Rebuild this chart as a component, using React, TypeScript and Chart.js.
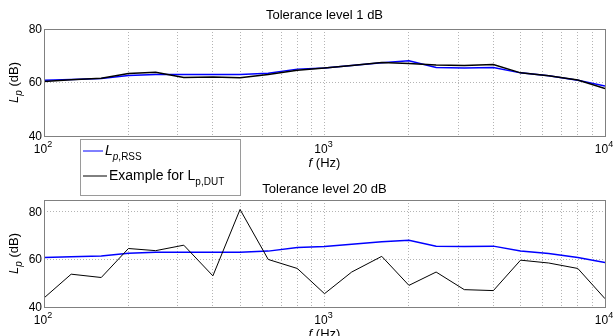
import { useEffect, useRef } from 'react';
import { Chart, registerables } from 'chart.js';

Chart.register(...registerables);

// One-third-octave band centre frequencies (Hz)
const freqs = [100, 125, 160, 200, 250, 315, 400, 500, 630, 800, 1000, 1250, 1600, 2000, 2500, 3150, 4000, 5000, 6300, 8000, 10000];

// Reference sound source level (dB)
const lpRss = [60.8, 61.1, 61.5, 62.6, 63.0, 63.0, 63.0, 63.0, 63.5, 65.0, 65.4, 66.4, 67.4, 68.1, 65.6, 65.4, 65.6, 63.6, 62.5, 60.8, 58.7];

// Example device-under-test levels (dB) for each tolerance level
const lpDutTol1 = [60.4, 61.0, 61.6, 63.4, 63.8, 61.9, 62.1, 61.8, 63.0, 64.6, 65.4, 66.4, 67.5, 67.1, 66.5, 66.4, 66.7, 63.6, 62.5, 60.9, 57.7];
const lpDutTol20 = [43.8, 53.8, 52.4, 64.6, 63.7, 66.0, 53.1, 81.0, 60.0, 56.2, 45.6, 54.7, 61.3, 49.1, 54.7, 47.3, 46.9, 59.7, 58.5, 56.2, 43.5];

// Axis ticks
const gridFreqs = [100, 200, 300, 400, 500, 600, 700, 800, 900, 1000, 2000, 3000, 4000, 5000, 6000, 7000, 8000, 9000, 10000];
const decadeTicks = [100, 1000, 10000];
const yTicks = [40, 60, 80];

const FONT = '"Liberation Sans", Arial, Helvetica, sans-serif';
const GRID = '#b4b4b4';
const FRAME = '#808080';

type Part = { text: string; size: number; italic?: boolean; dy?: number };

function richWidth(ctx: CanvasRenderingContext2D, parts: Part[]) {
  let w = 0;
  for (const p of parts) {
    ctx.font = `${p.italic ? 'italic ' : ''}${p.size}px ${FONT}`;
    w += ctx.measureText(p.text).width;
  }
  return w;
}

function drawRich(ctx: CanvasRenderingContext2D, parts: Part[], x: number, y: number, align: 'left' | 'center') {
  const total = richWidth(ctx, parts);
  let cx = align === 'center' ? x - total / 2 : x;
  ctx.textAlign = 'left';
  ctx.textBaseline = 'alphabetic';
  for (const p of parts) {
    ctx.font = `${p.italic ? 'italic ' : ''}${p.size}px ${FONT}`;
    ctx.fillText(p.text, cx, y + (p.dy || 0));
    cx += ctx.measureText(p.text).width;
  }
}

type PanelCfg = {
  title: string;
  titleBaseline: number;
  yMax: number;
  dut: number[];
  dutWidth: number;
  rssWidth: number;
  plotTop: number;
  plotBottom: number;
  height: number;
  offsetY: number;
  legend: boolean;
};

function makePanel(canvas: HTMLCanvasElement, cfg: PanelCfg) {
  const panelPlugin = {
    id: 'panelDecor',
    afterDraw(chart: any) {
      const { ctx, chartArea: a, scales } = chart;
      const xs = scales.x;
      const ys = scales.y;
      ctx.save();
      ctx.fillStyle = '#000';

      // plot frame
      ctx.strokeStyle = FRAME;
      ctx.lineWidth = 1;
      ctx.setLineDash([]);
      ctx.strokeRect(Math.round(a.left) + 0.5, Math.round(a.top) + 0.5, Math.round(a.right - a.left), Math.round(a.bottom - a.top));

      // title
      drawRich(ctx, [{ text: cfg.title, size: 13 }], (a.left + a.right) / 2, cfg.titleBaseline, 'center');

      // y tick labels
      ctx.font = `12px ${FONT}`;
      ctx.textAlign = 'right';
      ctx.textBaseline = 'middle';
      for (const v of yTicks) {
        if (v > cfg.yMax) continue;
        ctx.fillText(String(v), a.left - 2, ys.getPixelForValue(v) + 0.5);
      }

      // x tick labels (powers of ten)
      for (const v of decadeTicks) {
        const px = xs.getPixelForValue(v);
        const exp = String(Math.round(Math.log10(v)));
        drawRich(ctx, [{ text: '10', size: 12 }, { text: exp, size: 9, dy: -6 }], px - 1, a.bottom + 17, 'center');
      }

      // x axis title
      drawRich(ctx, [{ text: 'f', size: 13, italic: true }, { text: ' (Hz)', size: 13 }], (a.left + a.right) / 2, a.bottom + 30.5, 'center');

      // y axis title (rotated)
      ctx.save();
      ctx.translate(18, (a.top + a.bottom) / 2);
      ctx.rotate(-Math.PI / 2);
      drawRich(ctx, [
        { text: 'L', size: 13, italic: true },
        { text: 'p', size: 10, italic: true, dy: 4 },
        { text: ' (dB)', size: 13 },
      ], 0, 0, 'center');
      ctx.restore();

      // legend box between the panels
      if (cfg.legend) {
        const oy = -cfg.offsetY;
        ctx.fillStyle = '#fff';
        ctx.fillRect(80, 139 + oy, 161, 57);
        ctx.strokeStyle = '#9a9a9a';
        ctx.lineWidth = 1;
        ctx.strokeRect(80.5, 139.5 + oy, 160, 56);

        ctx.lineWidth = 1;
        ctx.strokeStyle = '#0000ff';
        ctx.beginPath();
        ctx.moveTo(83, 151 + oy);
        ctx.lineTo(103, 151 + oy);
        ctx.stroke();
        ctx.strokeStyle = '#000';
        ctx.beginPath();
        ctx.moveTo(83, 176 + oy);
        ctx.lineTo(107, 176 + oy);
        ctx.stroke();

        ctx.fillStyle = '#000';
        drawRich(ctx, [
          { text: 'L', size: 14, italic: true },
          { text: 'p', size: 10, italic: true, dy: 5 },
          { text: ',RSS', size: 10, dy: 5 },
        ], 105, 155 + oy, 'left');
        drawRich(ctx, [
          { text: 'Example for L', size: 14 },
          { text: 'p,DUT', size: 10, dy: 5 },
        ], 109, 180 + oy, 'left');
      }
      ctx.restore();
    },
  };

  const gridOpts = { color: GRID, lineWidth: 1, drawTicks: false };
  const borderOpts = { display: false, dash: [1, 2] };

  return new Chart(canvas, {
    type: 'line',
    data: {
      datasets: [
        {
          label: 'Example for Lp,DUT',
          data: freqs.map((f, i) => ({ x: f, y: cfg.dut[i] })),
          borderColor: '#000000',
          borderWidth: cfg.dutWidth,
          pointRadius: 0,
          tension: 0,
          order: 0,
        },
        {
          label: 'Lp,RSS',
          data: freqs.map((f, i) => ({ x: f, y: lpRss[i] })),
          borderColor: '#0000ff',
          borderWidth: cfg.rssWidth,
          pointRadius: 0,
          tension: 0,
          order: 1,
        },
      ],
    },
    options: {
      animation: false,
      responsive: false,
      events: [],
      layout: { padding: { top: cfg.plotTop, right: 9, left: 0, bottom: 0 } },
      plugins: {
        legend: { display: false },
        tooltip: { enabled: false },
        title: { display: false },
      },
      scales: {
        x: {
          type: 'logarithmic',
          min: 100,
          max: 10000,
          afterBuildTicks: (s: any) => {
            s.ticks = gridFreqs.map((v) => ({ value: v }));
          },
          afterFit: (s: any) => {
            s.height = cfg.height - cfg.plotBottom;
          },
          ticks: { display: false },
          grid: gridOpts,
          border: borderOpts,
        },
        y: {
          type: 'linear',
          min: 40,
          max: cfg.yMax,
          afterBuildTicks: (s: any) => {
            s.ticks = yTicks.filter((v) => v <= cfg.yMax).map((v) => ({ value: v }));
          },
          afterFit: (s: any) => {
            s.width = 44;
          },
          ticks: { display: false },
          grid: gridOpts,
          border: borderOpts,
        },
      },
    } as any,
    plugins: [panelPlugin],
  });
}

export default function App() {
  const topRef = useRef<HTMLCanvasElement>(null);
  const botRef = useRef<HTMLCanvasElement>(null);

  useEffect(() => {
    const top = makePanel(topRef.current!, {
      title: 'Tolerance level 1 dB',
      titleBaseline: 18.5,
      yMax: 80,
      dut: lpDutTol1,
      dutWidth: 1.5,
      rssWidth: 1.5,
      plotTop: 29,
      plotBottom: 136,
      height: 170,
      offsetY: 0,
      legend: false,
    });
    const bottom = makePanel(botRef.current!, {
      title: 'Tolerance level 20 dB',
      titleBaseline: 192.5 - 130,
      yMax: 85,
      dut: lpDutTol20,
      dutWidth: 1,
      rssWidth: 1.5,
      plotTop: 70,
      plotBottom: 177,
      height: 206,
      offsetY: 130,
      legend: true,
    });
    return () => {
      top.destroy();
      bottom.destroy();
    };
  }, []);

  return (
    <div style={{ position: 'absolute', left: 0, top: 0, width: 614, height: 336, background: '#fff', overflow: 'hidden' }}>
      <canvas ref={topRef} width={614} height={170} style={{ position: 'absolute', left: 0, top: 0, display: 'block' }} />
      <canvas ref={botRef} width={614} height={206} style={{ position: 'absolute', left: 0, top: 130, display: 'block' }} />
    </div>
  );
}
